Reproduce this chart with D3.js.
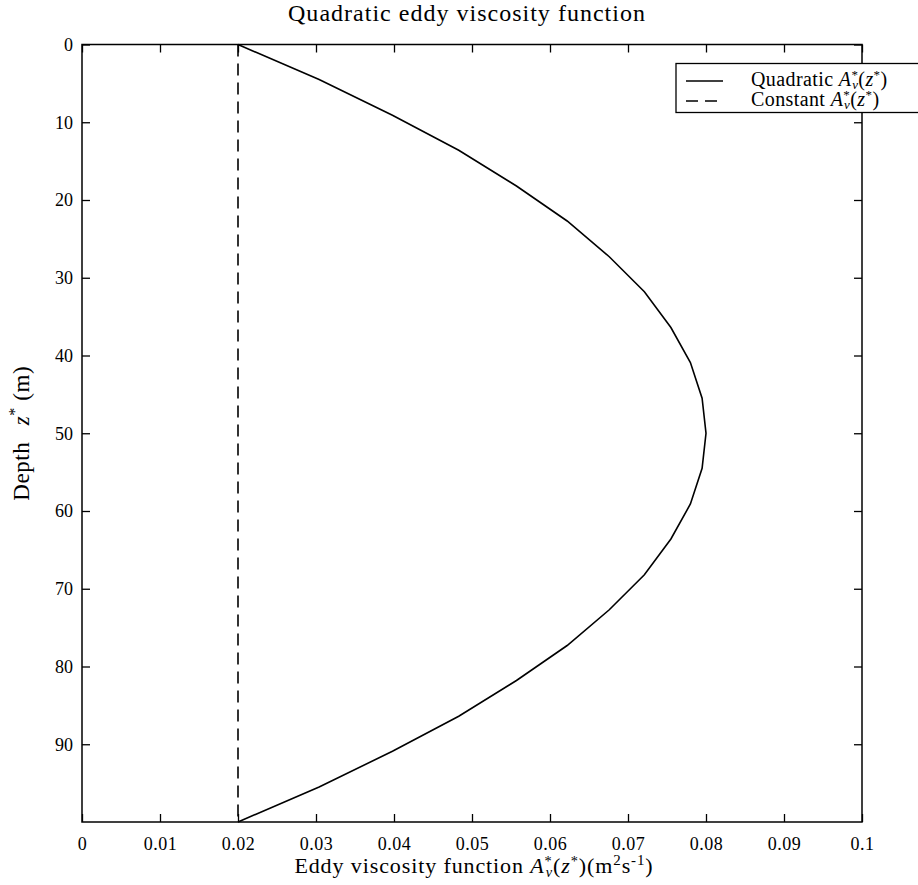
<!DOCTYPE html>
<html><head><meta charset="utf-8">
<script src="https://cdn.jsdelivr.net/npm/d3@7"></script>
<style>
body{margin:0;background:#fff}
svg{display:block}
text{font-family:"Liberation Serif","Times New Roman",serif;fill:#000}
</style>
</head><body><svg id="c" width="918" height="885"></svg>
<script>
// Data
const depths = [0,4.5,9.1,13.6,18.2,22.7,27.3,31.8,36.4,40.9,45.5,50,54.5,59.1,63.6,68.2,72.7,77.3,81.8,86.4,90.9,95.5,100];
const quadraticValues = [0.0200,0.0304,0.0398,0.0483,0.0557,0.0622,0.0676,0.0721,0.0755,0.0780,0.0795,0.0800,0.0795,0.0780,0.0755,0.0721,0.0676,0.0622,0.0557,0.0483,0.0398,0.0304,0.0200];
const constantDepths = [0,100];
const constantValues = [0.02,0.02];
const xTicks = [0,0.01,0.02,0.03,0.04,0.05,0.06,0.07,0.08,0.09,0.1];
const xTickLabels = ["0","0.01","0.02","0.03","0.04","0.05","0.06","0.07","0.08","0.09","0.1"];
const yTicks = [0,10,20,30,40,50,60,70,80,90];
const yTickLabels = ["0","10","20","30","40","50","60","70","80","90"];
const titleText = "Quadratic eddy viscosity function";

const svg = d3.select("#c");
const L = 82, R = 862, T = 44.5, B = 822;
const x = d3.scaleLinear().domain([0,0.1]).range([L,R]);
const y = d3.scaleLinear().domain([0,100]).range([T,B]);

function fitWidth(sel, target){
  const n = sel.node();
  const w = n.getComputedTextLength();
  const chars = n.textContent.length;
  if (chars > 1) sel.attr("letter-spacing", ((target - w)/(chars)).toFixed(2));
}

const tickFont = 18;
const gB = svg.append("g").attr("transform",`translate(0,${B})`)
  .call(d3.axisBottom(x).tickValues(xTicks).tickFormat((d,i)=>xTickLabels[i]).tickSize(-8).tickPadding(15));
const gT = svg.append("g").attr("transform",`translate(0,${T})`)
  .call(d3.axisTop(x).tickValues(xTicks).tickFormat("").tickSize(-8));
const gL = svg.append("g").attr("transform",`translate(${L},0)`)
  .call(d3.axisLeft(y).tickValues(yTicks).tickFormat((d,i)=>yTickLabels[i]).tickSize(-8).tickPadding(9));
const gR = svg.append("g").attr("transform",`translate(${R},0)`)
  .call(d3.axisRight(y).tickValues(yTicks).tickFormat("").tickSize(-8));
[gB,gT,gL,gR].forEach(g=>{
  g.select(".domain").remove();
  g.selectAll(".tick line").attr("stroke","#000").attr("stroke-width",1.3);
  g.selectAll("text").attr("font-family","Liberation Serif").attr("font-size",tickFont).attr("fill","#000");
});
gB.selectAll("text").attr("letter-spacing",0.5);

svg.append("rect").attr("x",L).attr("y",T).attr("width",R-L).attr("height",B-T)
  .attr("fill","none").attr("stroke","#000").attr("stroke-width",1.5);

const lineGen = d3.line().x(d=>x(d[0])).y(d=>y(d[1]));
svg.append("path").datum(quadraticValues.map((v,i)=>[v,depths[i]]))
  .attr("d",lineGen).attr("fill","none").attr("stroke","#000").attr("stroke-width",1.6);
svg.append("path").datum(constantValues.map((v,i)=>[v,constantDepths[i]]))
  .attr("d",lineGen).attr("fill","none").attr("stroke","#000").attr("stroke-width",1.6)
  .attr("stroke-dasharray","12,7");

// title
const tt = svg.append("text").attr("x",467).attr("y",21).attr("text-anchor","middle")
  .attr("font-size",24).text(titleText);
fitWidth(tt, 358);

function addAv(t, fs){
  t.append("tspan").attr("font-style","italic").text("A");
  t.append("tspan").attr("font-size",fs*0.65).attr("dy",-fs*0.34).text("*");
  t.append("tspan").attr("font-size",fs*0.65).attr("font-style","italic").attr("dx",-fs*0.31).attr("dy",fs*0.5).text("v");
  t.append("tspan").attr("dy",-fs*0.16).text("(");
  t.append("tspan").attr("font-style","italic").text("z");
  t.append("tspan").attr("font-size",fs*0.65).attr("dy",-fs*0.34).text("*");
  t.append("tspan").attr("dy",fs*0.34).text(")");
}

// x label
const xl = svg.append("text").attr("x",474).attr("y",873).attr("text-anchor","middle").attr("font-size",22);
xl.append("tspan").text("Eddy viscosity function ");
addAv(xl,22);
xl.append("tspan").text("(m");
xl.append("tspan").attr("font-size",15).attr("dy",-8).text("2");
xl.append("tspan").attr("dy",8).text("s");
xl.append("tspan").attr("font-size",15).attr("dy",-8).text("-1");
xl.append("tspan").attr("dy",8).text(")");
fitWidth(xl, 366);

// y label
const yl = svg.append("text").attr("transform",`translate(29,${(T+B)/2}) rotate(-90)`)
  .attr("text-anchor","middle").attr("font-size",23).attr("letter-spacing",0.6);
yl.append("tspan").text("Depth ");
yl.append("tspan").attr("font-style","italic").attr("dx",10).text("z");
yl.append("tspan").attr("font-size",16).attr("dy",-9).text("*");
yl.append("tspan").attr("dy",9).text(" (m)");

// legend
const lg = svg.append("g");
lg.append("rect").attr("x",676).attr("y",63.5).attr("width",260).attr("height",49)
  .attr("fill","#fff").attr("stroke","#000").attr("stroke-width",1.3);
const legendItems = [
  {label:"Quadratic ", dash:null},
  {label:"Constant ", dash:"12,7"}
];
legendItems.forEach((it,i)=>{
  const yy = 81 + i*20;
  lg.append("line").attr("x1",686).attr("x2",723).attr("y1",yy).attr("y2",yy)
    .attr("stroke","#000").attr("stroke-width",1.6).attr("stroke-dasharray",it.dash);
  const t = lg.append("text").attr("x",751).attr("y",yy+5).attr("font-size",20).attr("letter-spacing",0.4);
  t.append("tspan").text(it.label);
  addAv(t,20);
});
</script>
</body></html>
